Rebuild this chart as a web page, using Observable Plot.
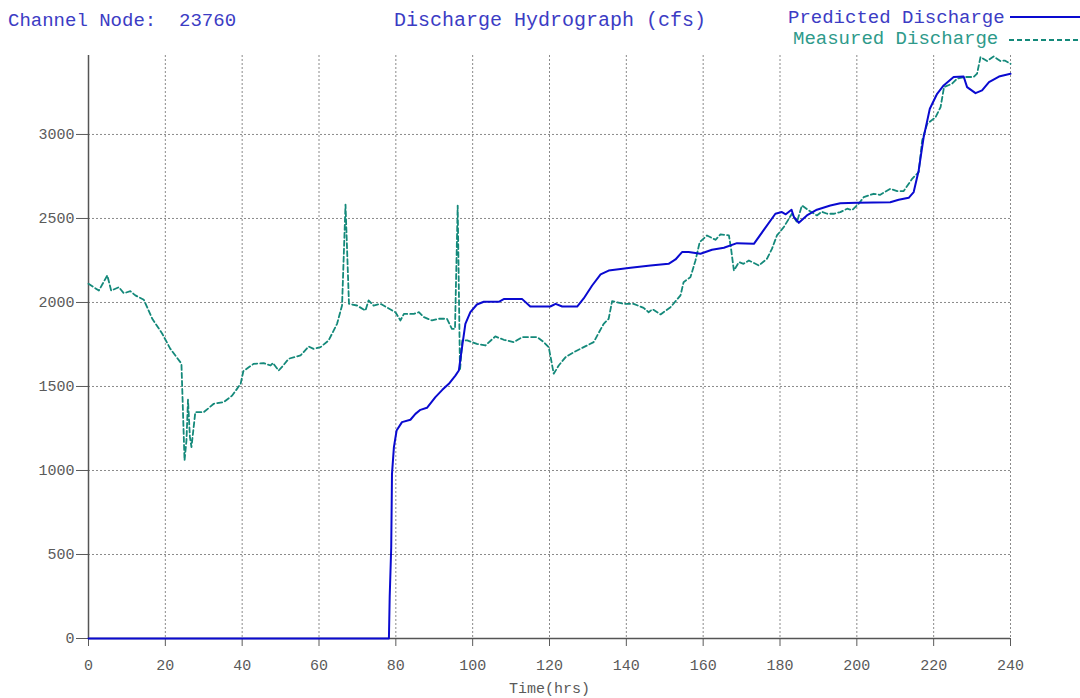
<!DOCTYPE html>
<html><head><meta charset="utf-8">
<script src="https://cdn.jsdelivr.net/npm/d3@7"></script>
<script src="https://cdn.jsdelivr.net/npm/@observablehq/plot@0.6"></script>
<style>
body{margin:0;background:#fff;}
#header{position:relative;width:1080px;height:50px;font-family:"Liberation Mono","Courier New",monospace;}
.t{position:absolute;white-space:pre;line-height:1;}
.ln{position:absolute;}
</style></head><body>
<div id="header">
<span class="t" id="node" style="left:8px;top:12px;font-size:19px;color:#3c3cc4"></span>
<span class="t" id="title" style="left:394px;top:10.7px;font-size:20px;color:#3c3cc4"></span>
<span class="t" id="leg1" style="left:788px;top:9.4px;font-size:19px;color:#3c3cc4"></span>
<div class="ln" style="left:1010px;top:16px;width:70px;height:2px;background:#0a0ad0"></div>
<span class="t" id="leg2" style="left:793px;top:30.4px;font-size:19px;color:#2e9a8a"></span>
<div class="ln" style="left:1009px;top:38.5px;width:71px;height:2px;background:repeating-linear-gradient(to right,#14897a 0 5px,transparent 5px 8px)"></div>
</div>
<div id="chart"></div>
<script>
const nodeLabel = "Channel Node:  23760";
const titleText = "Discharge Hydrograph (cfs)";
const seriesNames = ["Predicted Discharge", "Measured Discharge"];
const xLabel = "Time(hrs)";
const xTicks = [0, 20, 40, 60, 80, 100, 120, 140, 160, 180, 200, 220, 240];
const yTicks = [0, 500, 1000, 1500, 2000, 2500, 3000];

// [time (hrs), discharge (cfs)]
const predicted = [
[0,0],[78.2,0],[78.4,246],[78.8,543],[79.0,980],[79.5,1139],[80.2,1238],[81.6,1288],[83.8,1302],
[85.1,1337],[86.4,1361],[88.1,1373],[90.3,1437],[92.1,1480],[93.8,1516],[95.5,1565],[96.4,1595],
[97.0,1695],[98.1,1873],[99.4,1942],[101.1,1988],[102.9,2004],[106.8,2004],[108.1,2020],[112.9,2020],
[115.0,1976],[120.2,1976],[121.6,1992],[123.3,1976],[127.2,1976],[128.9,2024],[131.1,2101],[133.3,2167],
[135.4,2190],[141.1,2206],[146.3,2220],[151.0,2230],[152.8,2256],[154.5,2300],[156.2,2300],[159.3,2290],
[162.3,2314],[165.4,2326],[168.8,2353],[173.2,2349],[175.7,2429],[178.8,2528],[180.5,2538],[181.5,2525],
[183.0,2552],[183.6,2510],[184.9,2474],[187.0,2518],[189.6,2552],[193.1,2577],[195.7,2591],[200.0,2593],
[208.7,2597],[210.9,2611],[213.5,2623],[214.8,2657],[216.1,2786],[217.4,2984],[219.0,3153],[220.9,3242],
[222.6,3292],[225.2,3342],[227.8,3345],[228.7,3282],[230.9,3246],[232.6,3262],[234.4,3312],[237.0,3345],
[240,3361]
];

const measured = [
[0,2111],[2.7,2071],[4.9,2161],[5.9,2071],[7.9,2091],[9.2,2055],[10.9,2067],[12.2,2042],[14.4,2016],
[16.6,1903],[19.2,1814],[21.3,1724],[23.9,1645],[24.2,1630],[25.0,1060],[25.5,1179],[25.9,1421],
[26.4,1200],[26.8,1139],[27.8,1347],[30,1347],[32.6,1397],[35.2,1407],[37.4,1446],[39.6,1516],
[40.3,1591],[43,1635],[45.6,1639],[47.4,1625],[48.0,1640],[49.5,1595],[50.5,1620],[52.1,1665],
[55.2,1685],[57.3,1738],[58.6,1724],[60.4,1734],[62.5,1774],[64.7,1873],[66.0,1982],[66.9,2583],
[67.8,1992],[69.9,1982],[72.1,1952],[72.9,2012],[74.2,1982],[76.0,1992],[79.9,1942],[81.2,1893],
[82.1,1932],[84.7,1932],[86.0,1942],[87.3,1913],[89.4,1893],[91.2,1903],[93.3,1903],[94.6,1843],
[95.4,1843],[96.1,2577],[96.7,1595],[97.3,1774],[98.6,1774],[101.1,1754],[103.3,1744],[105.9,1798],
[108.1,1778],[110.7,1764],[112.9,1794],[116.8,1794],[118.5,1764],[119.8,1734],[121.1,1576],[122.4,1625],
[124.2,1675],[126.3,1704],[128.9,1734],[131.5,1764],[134.1,1873],[135.4,1903],[136.3,2008],[139.3,1992],
[141.9,1992],[144.5,1968],[145.8,1942],[146.8,1960],[148.9,1929],[151.5,1972],[154.1,2042],[154.9,2121],
[156.7,2151],[158.0,2250],[159.1,2359],[161.0,2399],[163.2,2373],[164.5,2405],[166.7,2399],[167.2,2330],
[168.0,2190],[169.3,2240],[170.5,2230],[171.9,2250],[173.2,2235],[174.5,2220],[176.6,2260],[177.9,2319],
[179.2,2399],[181.0,2449],[183.1,2528],[184.4,2478],[185.7,2577],[187.5,2548],[189.6,2518],[190.9,2540],
[192.3,2528],[194.0,2528],[195.7,2538],[197.5,2558],[198.8,2550],[200.5,2588],[201.8,2627],[204.4,2647],
[206,2640],[208.7,2677],[210.5,2663],[212.2,2663],[214.4,2736],[216.1,2776],[217.0,2964],[218.3,3063],
[220.5,3103],[221.8,3163],[222.7,3282],[224.8,3302],[226.1,3332],[228,3342],[230.4,3342],[231.3,3362],
[232.2,3461],[233.9,3437],[235.6,3464],[237.4,3437],[238.5,3440],[240,3421]
];

document.getElementById("node").textContent = nodeLabel;
document.getElementById("title").textContent = titleText;
document.getElementById("leg1").textContent = seriesNames[0];
document.getElementById("leg2").textContent = seriesNames[1];

const gridStyle = {stroke: "#8a8a8a", strokeOpacity: 1, strokeWidth: 1, strokeDasharray: "2,2"};
const chart = Plot.plot({
  width: 1080, height: 648,
  marginLeft: 88, marginRight: 70, marginTop: 5, marginBottom: 60,
  style: {fontFamily: '"Liberation Mono", "Courier New", monospace', fontSize: "15px", color: "#5a5a5a", background: "#fff"},
  x: {domain: [0, 240]},
  y: {domain: [0, 3470]},
  marks: [
    Plot.gridX(xTicks.filter(d => d > 0), gridStyle),
    Plot.gridY(yTicks.filter(d => d > 0), gridStyle),
    Plot.axisX(xTicks, {tickSize: 8, tickPadding: 13, tickFormat: d => String(d), label: xLabel, labelAnchor: "center", labelArrow: "none", labelOffset: 54}),
    Plot.axisY(yTicks, {tickSize: 12, tickPadding: 2, tickFormat: d => String(d), label: null}),
    Plot.ruleX([0], {stroke: "#555", strokeWidth: 1.5}),
    Plot.ruleY([0], {stroke: "#555", strokeWidth: 1.5}),
    Plot.line(measured, {x: d => d[0], y: d => d[1], stroke: "#14897a", strokeWidth: 1.8, strokeDasharray: "5,3"}),
    Plot.line(predicted, {x: d => d[0], y: d => d[1], stroke: "#0a0ad0", strokeWidth: 2})
  ]
});
document.getElementById("chart").appendChild(chart);
</script>
</body></html>
